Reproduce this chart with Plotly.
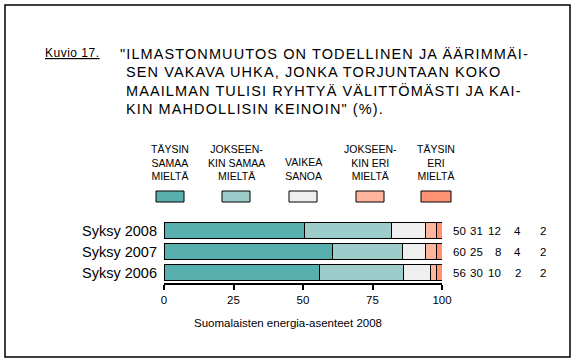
import plotly.graph_objects as go

years = ["Syksy 2008", "Syksy 2007", "Syksy 2006"]
series_names = ["TÄYSIN<br>SAMAA<br>MIELTÄ", "JOKSEEN-<br>KIN SAMAA<br>MIELTÄ", "VAIKEA<br>SANOA",
                "JOKSEEN-<br>KIN ERI<br>MIELTÄ", "TÄYSIN<br>ERI<br>MIELTÄ"]
taysin_samaa = [50, 60, 56]
jokseenkin_samaa = [31, 25, 30]
vaikea_sanoa = [12, 8, 10]
jokseenkin_eri = [4, 4, 2]
taysin_eri = [2, 2, 2]
tick_vals = [0, 25, 50, 75, 100]
footer = "Suomalaisten energia-asenteet 2008"

series = [taysin_samaa, jokseenkin_samaa, vaikea_sanoa, jokseenkin_eri, taysin_eri]
colors = ["#58B0AE", "#9DCDCB", "#EFEFEF", "#FFB49D", "#FF9272"]

W, H = 577, 362
L, R, T, B = 164, 442, 220, 283


def px(x):
    return (x - L) / (R - L)


def py(y):
    return (B - y) / (B - T)


fig = go.Figure()
for name, vals, col in zip(series_names, series, colors):
    fig.add_trace(go.Bar(
        y=years, x=vals, orientation="h", name=name.replace("<br>", " "),
        marker=dict(color=col, line=dict(color="black", width=1)),
        showlegend=False, hoverinfo="skip",
    ))

font = "Liberation Sans, Arial, sans-serif"
ann = []
shapes = []

# frame
shapes.append(dict(type="rect", xref="paper", yref="paper",
                   x0=px(5), x1=px(570), y0=py(5), y1=py(357),
                   line=dict(color="black", width=1.5), fillcolor="rgba(0,0,0,0)"))


def spaced(s, sp):
    return '<span style="letter-spacing:%spx">%s</span>' % (sp, s)


# titles
ann.append(dict(text="<u>" + spaced("Kuvio 17.", 0.5) + "</u>", x=px(43), y=py(53),
                xanchor="left", yanchor="middle", font=dict(size=12, color="black")))
title_lines = ['"ILMASTONMUUTOS ON TODELLINEN JA ÄÄRIMMÄI-',
               "SEN VAKAVA UHKA, JONKA TORJUNTAAN KOKO",
               "MAAILMAN TULISI RYHTYÄ VÄLITTÖMÄSTI JA KAI-",
               'KIN MAHDOLLISIN KEINOIN" (%).']
for i, line in enumerate(title_lines):
    ann.append(dict(text=spaced(line, 1.1), x=px(118 if i == 0 else 124), y=py(54 + i * 18.3),
                    xanchor="left", yanchor="middle", font=dict(size=14.5, color="black")))

# legend
box_x = [(156, 184), (222, 250), (289, 317), (356, 384), (421, 451)]
for (x0, x1), name, col in zip(box_x, series_names, colors):
    shapes.append(dict(type="rect", xref="paper", yref="paper",
                       x0=px(x0), x1=px(x1), y0=py(202), y1=py(191),
                       line=dict(color="black", width=1), fillcolor=col))
    ann.append(dict(text=name, x=px((x0 + x1) / 2), y=py(184), xanchor="center", yanchor="bottom",
                    font=dict(size=10.5, color="black"), align="center"))

# values column
col_x = [468, 485, 503, 523, 548]
for j, yr in enumerate(years):
    for k, vals in enumerate(series):
        ann.append(dict(text=str(vals[j]), x=px(col_x[k]), xref="paper", y=yr, yref="y",
                        xanchor="right", yanchor="middle", font=dict(size=11.5, color="black")))

# footer
ann.append(dict(text=footer, x=px(288), y=py(323), xanchor="center", yanchor="middle",
                font=dict(size=11.5, color="black")))

for a in ann:
    a.setdefault("xref", "paper")
    a.setdefault("yref", "paper")
    a["showarrow"] = False

fig.update_layout(
    width=W, height=H,
    margin=dict(l=L, r=W - R, t=T, b=H - B, pad=0),
    barmode="stack", barnorm="percent", bargap=0.24,
    paper_bgcolor="white", plot_bgcolor="white",
    font=dict(family=font, color="black"),
    annotations=ann, shapes=shapes,
    xaxis=dict(range=[0, 100], tickvals=tick_vals, showgrid=False, zeroline=False,
               showline=True, linecolor="black", linewidth=1.5, ticks="outside", ticklen=5,
               tickcolor="black", tickwidth=1.5, tickfont=dict(size=11.5)),
    yaxis=dict(categoryorder="array", categoryarray=years[::-1], showgrid=False, zeroline=False,
               showline=False, ticks="", tickfont=dict(size=14.5), ticklabelstandoff=6),
)

fig.write_html("out.html", config={"displayModeBar": False},
               post_script="document.body.style.margin='0px';")
